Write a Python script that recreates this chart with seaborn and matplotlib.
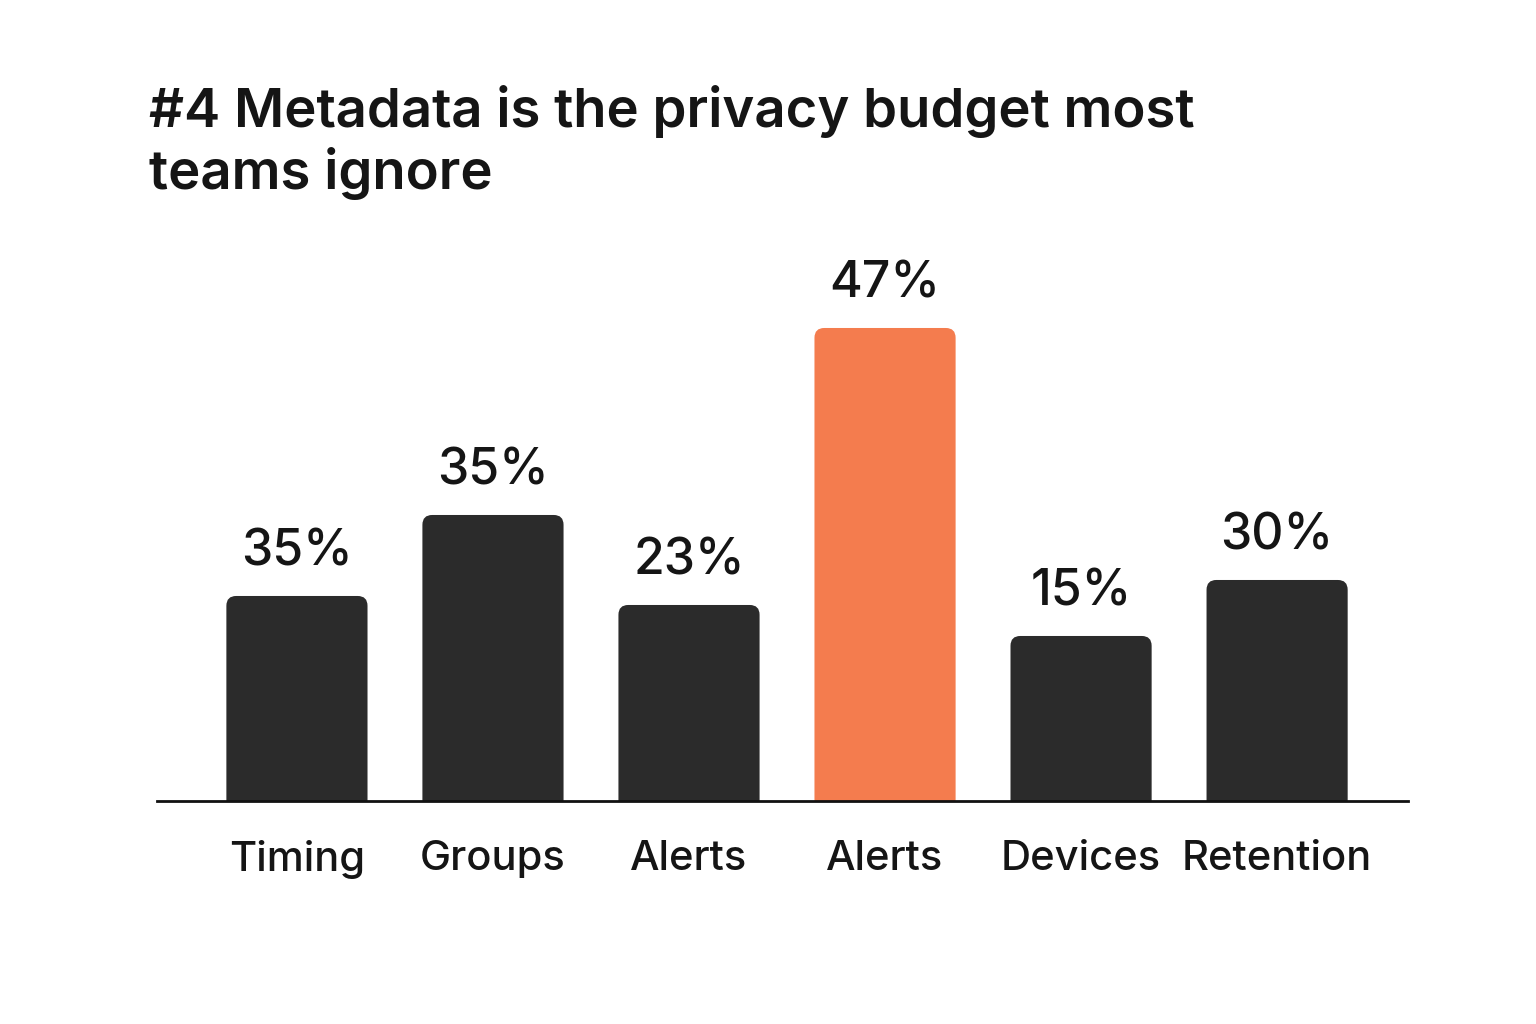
import matplotlib
matplotlib.use("Agg")
import matplotlib.pyplot as plt
import seaborn as sns
import pandas as pd
from matplotlib.patches import FancyBboxPatch

# data (bar heights as drawn, labels as printed)
categories = ["Timing", "Groups", "Alerts", "Alerts ", "Devices", "Retention"]
tick_labels = ["Timing", "Groups", "Alerts", "Alerts", "Devices", "Retention"]
heights = [20.5, 28.6, 19.6, 47.3, 16.5, 22.1]
value_labels = ["35%", "35%", "23%", "47%", "15%", "30%"]
highlight = "Alerts "

dark = "#2b2b2b"
orange = "#f47c4e"

sns.set_theme(style="white")
plt.rcParams["font.family"] = ["Inter", "DejaVu Sans"]

df = pd.DataFrame({"category": categories, "value": heights})
palette = {c: (orange if c == highlight else dark) for c in categories}

fig = plt.figure(figsize=(15.36, 10.24), dpi=100)
ax = fig.add_axes([0.1022, 0.2178, 0.8145, 0.5371])

sns.barplot(data=df, x="category", y="value", hue="category", palette=palette,
            order=categories, width=0.72, legend=False, ax=ax, saturation=1)

ax.set_xlim(-0.714, 5.668)
ax.set_ylim(0, 55)

# swap the plain bars for rounded ones (bottom corners hidden below the axis)
bars = list(ax.patches)
for bar in bars:
    x, w, h = bar.get_x(), bar.get_width(), bar.get_height()
    color = bar.get_facecolor()
    bar.remove()
    rounded = FancyBboxPatch((x, -3), w, h + 3,
                             boxstyle="round,pad=0,rounding_size=0.05",
                             mutation_aspect=19.6, facecolor=color,
                             edgecolor="none", clip_on=True)
    ax.add_patch(rounded)
    rounded.set_clip_path(ax.patch)

for i, (h, lab) in enumerate(zip(heights, value_labels)):
    ax.text(i, h + 2.0, lab, ha="center", va="bottom", fontsize=36,
            fontweight="medium", color="#151515")

ax.set_xticks(range(len(categories)))
ax.set_xticklabels(tick_labels, fontsize=30, fontweight="medium", color="#151515")
ax.tick_params(axis="x", length=0, pad=28)
ax.set_yticks([])
ax.set_xlabel("")
ax.set_ylabel("")
for side in ["top", "right", "left"]:
    ax.spines[side].set_visible(False)
ax.spines["bottom"].set_color("#111111")
ax.spines["bottom"].set_linewidth(2)

fig.text(0.097, 0.805, "#4 Metadata is the privacy budget most\nteams ignore",
         ha="left", va="bottom", fontsize=39.2, fontweight="semibold",
         color="#151515", linespacing=1.2)

fig.savefig("out.png", dpi=100, facecolor="white")
